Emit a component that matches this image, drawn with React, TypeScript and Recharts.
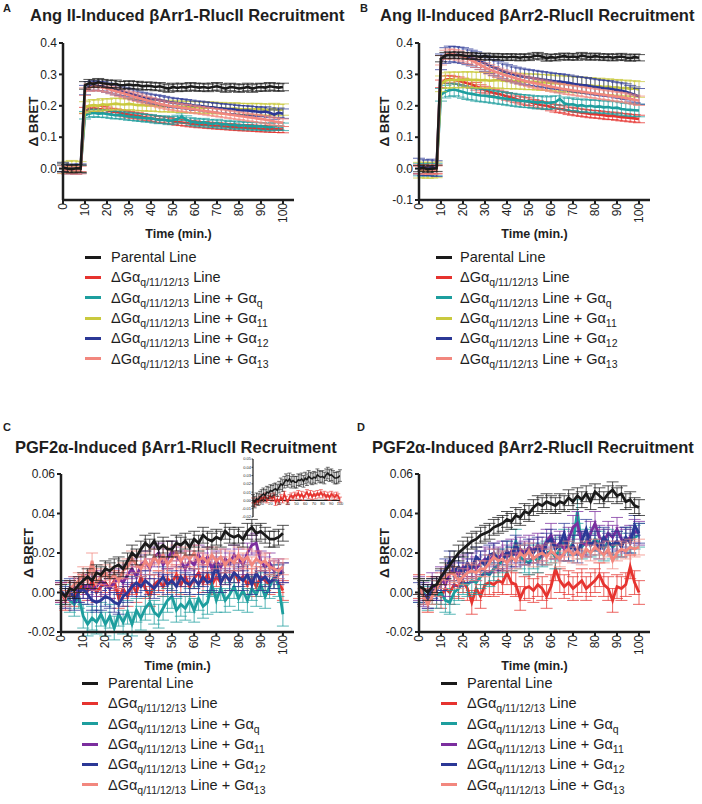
import { LineChart, Line, XAxis, YAxis, ErrorBar, Legend, ReferenceLine } from 'recharts'

const FONT = "'Liberation Sans', Arial, Helvetica, sans-serif"
const INK = '#1e1e1e'

// time points (min.)
const T = [0, 2, 4, 6, 8, 10, 12, 14, 16, 18, 20, 22, 24, 26, 28, 30, 32, 34, 36, 38, 40, 42, 44, 46, 48, 50, 52, 54, 56, 58, 60, 62, 64, 66, 68, 70, 72, 74, 76, 78, 80, 82, 84, 86, 88, 90, 92, 94, 96, 98, 100]
const X_TICKS = [0, 10, 20, 30, 40, 50, 60, 70, 80, 90, 100]

// A: Ang II, bArr1
const aParental = [0.003, 0.0, -0.002, 0.001, 0.0, 0.265, 0.272, 0.27, 0.275, 0.272,
  0.27, 0.268, 0.27, 0.265, 0.266, 0.268, 0.265, 0.266, 0.262, 0.264,
  0.263, 0.26, 0.262, 0.258, 0.255, 0.26, 0.257, 0.26, 0.258, 0.262,
  0.26, 0.258, 0.26, 0.257, 0.26, 0.262, 0.258, 0.255, 0.26, 0.258,
  0.255, 0.257, 0.26, 0.255, 0.258, 0.26, 0.258, 0.262, 0.26, 0.258, 0.26]
const aKO = [0.0, -0.003, 0.002, -0.002, 0.0, 0.185, 0.19, 0.192, 0.19, 0.188,
  0.186, 0.182, 0.18, 0.178, 0.175, 0.172, 0.17, 0.168, 0.165, 0.163,
  0.16, 0.158, 0.156, 0.155, 0.153, 0.15, 0.148, 0.147, 0.145, 0.143,
  0.142, 0.14, 0.14, 0.138, 0.137, 0.136, 0.135, 0.134, 0.133, 0.132,
  0.131, 0.13, 0.13, 0.129, 0.128, 0.127, 0.127, 0.126, 0.125, 0.125, 0.124]
const aKOq = [-0.002, 0.0, -0.003, 0.001, -0.002, 0.17, 0.175, 0.178, 0.175, 0.176,
  0.174, 0.172, 0.17, 0.171, 0.168, 0.166, 0.165, 0.163, 0.162, 0.16,
  0.16, 0.157, 0.155, 0.156, 0.152, 0.154, 0.158, 0.165, 0.156, 0.15,
  0.148, 0.145, 0.148, 0.144, 0.142, 0.145, 0.14, 0.142, 0.138, 0.14,
  0.136, 0.138, 0.135, 0.136, 0.134, 0.135, 0.133, 0.132, 0.134, 0.135, 0.133]
const aKO11 = [0.002, 0.005, 0.008, 0.006, 0.004, 0.195, 0.2, 0.202, 0.2, 0.205,
  0.203, 0.205, 0.207, 0.205, 0.204, 0.206, 0.204, 0.202, 0.203, 0.2,
  0.202, 0.2, 0.199, 0.198, 0.2, 0.197, 0.198, 0.196, 0.197, 0.195,
  0.196, 0.195, 0.193, 0.195, 0.194, 0.192, 0.193, 0.191, 0.19, 0.192,
  0.19, 0.189, 0.19, 0.188, 0.19, 0.189, 0.187, 0.188, 0.19, 0.186, 0.188]
const aKO12 = [0.005, -0.002, 0.0, -0.003, 0.0, 0.25, 0.262, 0.265, 0.263, 0.262,
  0.258, 0.255, 0.25, 0.248, 0.244, 0.24, 0.236, 0.232, 0.228, 0.225,
  0.222, 0.22, 0.218, 0.215, 0.212, 0.21, 0.208, 0.207, 0.205, 0.203,
  0.2, 0.2, 0.198, 0.196, 0.195, 0.193, 0.192, 0.19, 0.19, 0.188,
  0.186, 0.185, 0.185, 0.183, 0.182, 0.18, 0.182, 0.178, 0.172, 0.178, 0.175]
const aKO13 = [-0.003, -0.005, -0.004, -0.006, -0.005, 0.245, 0.258, 0.262, 0.26, 0.258,
  0.255, 0.25, 0.246, 0.242, 0.238, 0.234, 0.23, 0.226, 0.222, 0.218,
  0.214, 0.21, 0.206, 0.203, 0.2, 0.198, 0.196, 0.194, 0.192, 0.19,
  0.188, 0.186, 0.184, 0.182, 0.18, 0.178, 0.176, 0.174, 0.172, 0.17,
  0.168, 0.166, 0.164, 0.162, 0.16, 0.158, 0.156, 0.153, 0.15, 0.148, 0.146]
const aErr = [0.012, 0.01, 0.012, 0.018, 0.015, 0.012]

// B: Ang II, bArr2
const bParental = [0.0, 0.002, -0.002, 0.0, 0.001, 0.35, 0.36, 0.362, 0.36, 0.362,
  0.36, 0.358, 0.36, 0.358, 0.356, 0.358, 0.355, 0.357, 0.355, 0.356,
  0.354, 0.356, 0.355, 0.353, 0.356, 0.354, 0.358, 0.36, 0.356, 0.352,
  0.355, 0.353, 0.356, 0.358, 0.355, 0.357, 0.355, 0.36, 0.357, 0.355,
  0.358, 0.356, 0.354, 0.356, 0.353, 0.355, 0.357, 0.354, 0.352, 0.355, 0.353]
const bKO = [-0.004, -0.005, -0.004, -0.005, -0.003, 0.27, 0.283, 0.285, 0.282, 0.28,
  0.276, 0.272, 0.268, 0.262, 0.255, 0.25, 0.245, 0.241, 0.238, 0.234,
  0.23, 0.227, 0.222, 0.218, 0.215, 0.213, 0.208, 0.205, 0.202, 0.2,
  0.196, 0.192, 0.19, 0.188, 0.184, 0.182, 0.18, 0.178, 0.176, 0.174,
  0.173, 0.172, 0.17, 0.168, 0.168, 0.166, 0.164, 0.163, 0.161, 0.16, 0.158]
const bKOq = [-0.003, -0.004, -0.002, -0.004, -0.003, 0.235, 0.245, 0.25, 0.252, 0.248,
  0.244, 0.24, 0.238, 0.235, 0.233, 0.232, 0.23, 0.228, 0.226, 0.224,
  0.222, 0.22, 0.218, 0.216, 0.215, 0.214, 0.212, 0.21, 0.212, 0.208,
  0.21, 0.212, 0.222, 0.208, 0.204, 0.205, 0.2, 0.202, 0.198, 0.2,
  0.197, 0.198, 0.195, 0.196, 0.193, 0.194, 0.19, 0.188, 0.187, 0.186, 0.185]
const bKO11 = [-0.005, -0.004, -0.006, -0.005, -0.004, 0.27, 0.28, 0.283, 0.282, 0.283,
  0.282, 0.284, 0.282, 0.283, 0.281, 0.282, 0.28, 0.281, 0.282, 0.28,
  0.279, 0.28, 0.278, 0.279, 0.277, 0.276, 0.277, 0.275, 0.274, 0.275,
  0.272, 0.273, 0.27, 0.271, 0.268, 0.269, 0.266, 0.267, 0.264, 0.265,
  0.262, 0.263, 0.26, 0.261, 0.258, 0.259, 0.256, 0.257, 0.254, 0.255, 0.252]
const bKO12 = [0.008, 0.003, 0.002, 0.005, 0.0, 0.34, 0.36, 0.365, 0.364, 0.362,
  0.36, 0.356, 0.352, 0.347, 0.341, 0.335, 0.328, 0.322, 0.317, 0.311,
  0.306, 0.302, 0.298, 0.295, 0.292, 0.29, 0.288, 0.286, 0.284, 0.282,
  0.28, 0.278, 0.277, 0.275, 0.273, 0.27, 0.268, 0.266, 0.265, 0.262,
  0.26, 0.258, 0.256, 0.255, 0.253, 0.25, 0.248, 0.245, 0.24, 0.235, 0.23]
const bKO13 = [-0.002, -0.003, -0.002, -0.004, -0.003, 0.345, 0.362, 0.366, 0.364, 0.36,
  0.355, 0.35, 0.344, 0.337, 0.33, 0.322, 0.316, 0.31, 0.305, 0.3,
  0.296, 0.292, 0.288, 0.284, 0.28, 0.276, 0.273, 0.27, 0.267, 0.264,
  0.261, 0.258, 0.256, 0.253, 0.251, 0.249, 0.247, 0.245, 0.243, 0.241,
  0.239, 0.237, 0.235, 0.233, 0.231, 0.229, 0.227, 0.225, 0.222, 0.219, 0.216]
const bErr = [0.01, 0.012, 0.02, 0.025, 0.025, 0.015]

// C: PGF2a, bArr1
const cParental = [0.0, -0.002, 0.002, 0.001, 0.004, 0.006, 0.008, 0.006, 0.01, 0.009,
  0.012, 0.011, 0.013, 0.014, 0.012, 0.016, 0.02, 0.018, 0.022, 0.025,
  0.023, 0.026, 0.022, 0.024, 0.022, 0.022, 0.025, 0.024, 0.026, 0.023,
  0.027, 0.025, 0.029, 0.027, 0.026, 0.028, 0.027, 0.031, 0.029, 0.028,
  0.029, 0.027, 0.031, 0.033, 0.03, 0.031, 0.029, 0.027, 0.027, 0.028, 0.03]
const cKO = [0.0, -0.004, 0.0, -0.002, 0.002, 0.004, 0.001, 0.006, 0.0, 0.003,
  0.005, 0.002, 0.006, -0.003, 0.002, -0.002, 0.004, 0.0, 0.008, 0.002,
  -0.002, 0.004, 0.006, 0.003, 0.007, 0.005, 0.009, 0.004, 0.008, 0.003,
  0.007, 0.01, 0.005, 0.009, 0.004, 0.008, 0.005, 0.009, 0.006, 0.01,
  0.006, 0.008, 0.004, 0.007, 0.003, 0.008, 0.006, 0.004, 0.007, 0.005, 0.001]
const cKOq = [0.0, -0.002, -0.004, -0.006, -0.002, -0.012, -0.016, -0.013, -0.015, -0.011,
  -0.016, -0.012, -0.018, -0.011, -0.015, -0.01, -0.016, -0.009, -0.013, -0.008,
  -0.005, -0.01, -0.012, -0.008, -0.004, -0.002, -0.009, -0.006, -0.008, -0.004,
  -0.009, -0.003, -0.007, -0.005, 0.004, -0.004, 0.002, -0.004, -0.001, 0.003,
  -0.003, 0.001, -0.004, 0.002, -0.001, 0.004, -0.002, 0.003, 0.008, 0.004, -0.011]
const cKO11 = [0.0, -0.003, 0.001, 0.003, 0.0, 0.002, 0.004, 0.001, 0.003, 0.006,
  0.004, 0.002, 0.005, 0.007, 0.005, 0.009, 0.012, 0.008, 0.014, 0.016,
  0.012, 0.018, 0.02, 0.014, 0.017, 0.021, 0.018, 0.016, 0.012, 0.016,
  0.014, 0.019, 0.015, 0.018, 0.012, 0.016, 0.013, 0.017, 0.015, 0.019,
  0.017, 0.014, 0.02, 0.024, 0.025, 0.016, 0.013, 0.015, 0.011, 0.012, 0.01]
const cKO12 = [0.001, -0.002, 0.002, -0.004, 0.0, 0.002, -0.001, -0.004, -0.005, -0.004,
  -0.002, -0.003, -0.005, -0.006, -0.002, 0.0, 0.003, 0.005, 0.003, 0.006,
  0.004, 0.002, 0.005, 0.008, 0.004, 0.006, 0.003, 0.008, 0.005, 0.004,
  0.007, 0.004, 0.008, 0.005, 0.006, 0.015, 0.005, 0.009, 0.006, 0.01,
  0.008, 0.006, 0.009, 0.004, 0.01, 0.006, 0.008, 0.005, 0.007, 0.009, 0.01]
const cKO13 = [0.0, -0.003, 0.002, 0.004, 0.006, 0.009, 0.006, 0.016, 0.005, 0.008,
  0.01, 0.007, 0.009, 0.006, 0.011, 0.013, 0.017, 0.014, 0.012, 0.016,
  0.013, 0.018, 0.015, 0.019, 0.014, 0.017, 0.02, 0.016, 0.019, 0.017,
  0.02, 0.016, 0.018, 0.015, 0.019, 0.016, 0.018, 0.014, 0.017, 0.015,
  0.019, 0.016, 0.018, 0.014, 0.017, 0.015, 0.016, 0.013, 0.012, 0.011, 0.013]
const cErr = [0.004, 0.005, 0.006, 0.005, 0.005, 0.004]

// D: PGF2a, bArr2
const dParental = [0.003, 0.002, 0.0, 0.003, 0.004, 0.008, 0.011, 0.014, 0.017, 0.02,
  0.022, 0.024, 0.026, 0.027, 0.029, 0.03, 0.031, 0.033, 0.034, 0.035,
  0.037, 0.036, 0.039, 0.038, 0.041, 0.04, 0.043, 0.045, 0.044, 0.046,
  0.045, 0.044, 0.046, 0.045, 0.048, 0.046, 0.049, 0.047, 0.05, 0.046,
  0.051, 0.049, 0.047, 0.05, 0.052, 0.049, 0.05, 0.046, 0.047, 0.044, 0.043]
const dKO = [0.003, 0.0, -0.004, 0.002, 0.0, -0.002, 0.002, 0.0, 0.004, 0.003,
  0.006, 0.002, -0.005, 0.002, -0.002, 0.004, 0.005, 0.004, 0.006, 0.005,
  0.01, 0.005, 0.004, -0.003, 0.002, 0.003, 0.001, 0.004, 0.002, -0.002,
  0.003, 0.012, 0.006, 0.003, 0.005, 0.002, 0.004, 0.006, 0.002, 0.004,
  0.006, 0.009, 0.004, 0.002, -0.004, 0.003, 0.002, 0.004, 0.013, 0.005, 0.0]
const dKOq = [0.001, 0.0, -0.003, 0.0, -0.002, 0.0, -0.004, -0.005, 0.0, 0.002,
  0.005, 0.004, 0.006, 0.005, 0.008, 0.01, 0.009, 0.012, 0.014, 0.016,
  0.02, 0.017, 0.026, 0.018, 0.016, 0.015, 0.018, 0.016, 0.019, 0.02,
  0.021, 0.018, 0.022, 0.026, 0.022, 0.025, 0.041, 0.023, 0.026, 0.024,
  0.027, 0.025, 0.022, 0.026, 0.023, 0.025, 0.024, 0.027, 0.026, 0.028, 0.029]
const dKO11 = [0.002, -0.001, -0.002, 0.004, 0.002, 0.007, 0.004, 0.01, 0.012, 0.009,
  0.013, 0.011, 0.014, 0.012, 0.015, 0.017, 0.016, 0.019, 0.017, 0.02,
  0.018, 0.021, 0.019, 0.022, 0.02, 0.023, 0.021, 0.024, 0.022, 0.026,
  0.029, 0.023, 0.025, 0.022, 0.027, 0.033, 0.035, 0.025, 0.024, 0.03,
  0.035, 0.028, 0.026, 0.03, 0.028, 0.032, 0.027, 0.026, 0.028, 0.031, 0.03]
const dKO12 = [0.0, -0.001, -0.003, 0.002, 0.001, 0.006, 0.012, 0.016, 0.011, 0.013,
  0.01, 0.015, 0.012, 0.018, 0.016, 0.014, 0.019, 0.02, 0.017, 0.016,
  0.021, 0.018, 0.024, 0.02, 0.019, 0.022, 0.02, 0.023, 0.019, 0.025,
  0.027, 0.022, 0.024, 0.03, 0.021, 0.024, 0.02, 0.026, 0.032, 0.024,
  0.026, 0.022, 0.028, 0.025, 0.024, 0.026, 0.023, 0.028, 0.025, 0.034, 0.03]
const dKO13 = [0.003, -0.002, -0.006, -0.002, 0.002, 0.006, 0.008, 0.01, 0.009, 0.006,
  0.008, 0.01, 0.011, 0.01, 0.012, 0.012, 0.015, 0.018, 0.016, 0.017,
  0.015, 0.018, 0.016, 0.02, 0.018, 0.021, 0.017, 0.019, 0.02, 0.018,
  0.021, 0.019, 0.017, 0.02, 0.022, 0.019, 0.021, 0.018, 0.022, 0.02,
  0.023, 0.021, 0.019, 0.022, 0.016, 0.02, 0.022, 0.021, 0.023, 0.022, 0.023]
const dErr = [0.004, 0.006, 0.006, 0.006, 0.005, 0.004]

const insetErr = [0.007, 0.003]

const COLORS_AB = ['#1a1a1a', '#e6332f', '#1d9e9e', '#c9c93e', '#2b3896', '#f2877e']
const COLORS_CD = ['#1a1a1a', '#e6332f', '#1d9e9e', '#7b2e9e', '#2b3896', '#f2877e']
const SUBS = ['', '', 'q', '11', '12', '13']
// draw order: parental last so it sits on top
const ORDER = [1, 2, 3, 4, 5, 0]

function rowsFor(series: number[][], errs: number[]) {
  return T.map((t, i) => {
    const r: Record<string, number> = { t }
    series.forEach((s, k) => { r['s' + k] = s[i]; r['e' + k] = errs[k] })
    return r
  })
}

function XTick({ x, y, payload }: any) {
  return (
    <text transform={`translate(${x},${y - 3}) rotate(-90)`} textAnchor="end" dominantBaseline="central"
      fontSize={12} fill={INK}>{payload.value}</text>
  )
}

function XTitle({ viewBox }: any) {
  return (
    <text x={viewBox.x + viewBox.width / 2} y={viewBox.y + 34} textAnchor="middle" dominantBaseline="central"
      fontSize={12.5} fontWeight="bold" fill={INK}>Time (min.)</text>
  )
}

function YTitle({ viewBox, off }: any) {
  const cx = viewBox.x + viewBox.width - off
  const cy = viewBox.y + viewBox.height / 2
  return (
    <text x={cx} y={cy} transform={`rotate(-90 ${cx} ${cy})`} textAnchor="middle" dominantBaseline="central"
      fontSize={13.5} fontWeight="bold" fill={INK}>Δ BRET</text>
  )
}

const subStyle = { fontSize: 10.5, position: 'relative' as const, top: 4 }

function LegendBox({ colors, gap }: { colors: string[]; gap: number }) {
  return (
    <div style={{ fontFamily: FONT, fontSize: 14.5, color: INK }}>
      {colors.map((c, i) => (
        <div key={i} style={{ display: 'flex', alignItems: 'center', height: 20.3, whiteSpace: 'nowrap' }}>
          <span style={{ width: 16, height: 3, background: c, marginRight: gap, flex: 'none' }} />
          {i === 0 ? <span>Parental Line</span> : (
            <span>ΔGα<span style={subStyle}>q/11/12/13</span> Line{SUBS[i] && <> + Gα<span style={subStyle}>{SUBS[i]}</span></>}</span>
          )}
        </div>
      ))}
    </div>
  )
}

interface PanelCfg {
  left: number; top: number; height: number
  margin: { top: number; right: number; bottom: number; left: number }
  series: number[][]; errs: number[]; colors: string[]
  yDomain: number[]; yTicks: number[]; dec: number; yOff: number
  legLeft: number; legTop: number; legGap: number; lw: number
}

function Panel({ p }: { p: PanelCfg }) {
  const data = rowsFor(p.series, p.errs)
  return (
    <div style={{ position: 'absolute', left: p.left, top: p.top }}>
      <LineChart width={351} height={p.height} data={data} margin={p.margin}>
        <XAxis type="number" dataKey="t" domain={[0, 105]} ticks={X_TICKS} interval={0} allowDataOverflow
          height={40} tickSize={4} tickMargin={2}
          axisLine={{ stroke: INK, strokeWidth: 2.5 }} tickLine={{ stroke: INK, strokeWidth: 2 }}
          tick={<XTick />} label={<XTitle />} />
        <YAxis type="number" domain={p.yDomain} ticks={p.yTicks} interval={0} allowDataOverflow width={40}
          tickSize={4} tickMargin={2} tickFormatter={(v: number) => v.toFixed(p.dec)}
          axisLine={{ stroke: INK, strokeWidth: 2.5 }} tickLine={{ stroke: INK, strokeWidth: 2 }}
          tick={{ fontSize: 12, fill: INK }} label={<YTitle off={p.yOff} />} />
        <Legend layout="vertical" align="center" verticalAlign="middle"
          wrapperStyle={{ left: p.legLeft, top: p.legTop, width: 270, height: 125 }}
          content={() => <LegendBox colors={p.colors} gap={p.legGap} />} />
        {ORDER.map(k => (
          <Line key={k} type="linear" dataKey={'s' + k} stroke={p.colors[k]} strokeWidth={p.lw}
            dot={false} activeDot={false} isAnimationActive={false}>
            <ErrorBar dataKey={'e' + k} width={6} stroke={p.colors[k]} strokeWidth={1} strokeOpacity={0.75} />
          </Line>
        ))}
      </LineChart>
    </div>
  )
}

function InsetXTick({ x, y, payload }: any) {
  return <text x={x} y={y - 12.5} textAnchor="middle" fontSize={4} fill={INK}>{payload.value}</text>
}

function Inset() {
  const data = rowsFor([cParental, cKO], insetErr)
  return (
    <div style={{ position: 'absolute', left: 240, top: 453 }}>
      <LineChart width={105} height={70} data={data} margin={{ top: 6, right: 5, bottom: 5, left: 0 }}>
        <XAxis type="number" dataKey="t" domain={[0, 100]} ticks={[10, 20, 30, 40, 50, 60, 70, 80, 90, 100]}
          interval={0} allowDataOverflow height={1} tickSize={0} tickMargin={0} axisLine={false}
          tick={<InsetXTick />} />
        <YAxis type="number" domain={[-0.02, 0.05]} ticks={[-0.02, -0.01, 0, 0.01, 0.02, 0.03, 0.04, 0.05]}
          interval={0} allowDataOverflow width={13} tickSize={1.5} tickMargin={0.5}
          tickFormatter={(v: number) => v.toFixed(2)} axisLine={{ stroke: INK, strokeWidth: 1.2 }}
          tickLine={{ stroke: INK, strokeWidth: 0.8 }} tick={{ fontSize: 4, fill: INK }} />
        <ReferenceLine y={0} stroke={INK} strokeWidth={1.2} />
        <Line type="linear" dataKey="s1" stroke={COLORS_CD[1]} strokeWidth={1.6} dot={false} activeDot={false} isAnimationActive={false}>
          <ErrorBar dataKey="e1" width={2} stroke={COLORS_CD[1]} strokeWidth={0.6} />
        </Line>
        <Line type="linear" dataKey="s0" stroke={COLORS_CD[0]} strokeWidth={1.6} dot={false} activeDot={false} isAnimationActive={false}>
          <ErrorBar dataKey="e0" width={2} stroke={COLORS_CD[0]} strokeWidth={0.6} />
        </Line>
      </LineChart>
    </div>
  )
}

const PANELS: PanelCfg[] = [
  {
    left: 0, top: 0, height: 380, margin: { top: 43, right: 57, bottom: 140, left: 23 },
    series: [aParental, aKO, aKOq, aKO11, aKO12, aKO13], errs: aErr, colors: COLORS_AB,
    yDomain: [-0.1, 0.4], yTicks: [0, 0.1, 0.2, 0.3, 0.4], dec: 1, yOff: 30,
    legLeft: 85, legTop: 247, legGap: 10, lw: 2.6,
  },
  {
    left: 351, top: 0, height: 380, margin: { top: 43, right: 52, bottom: 140, left: 28 },
    series: [bParental, bKO, bKOq, bKO11, bKO12, bKO13], errs: bErr, colors: COLORS_AB,
    yDomain: [-0.1, 0.4], yTicks: [-0.1, 0, 0.1, 0.2, 0.3, 0.4], dec: 1, yOff: 35,
    legLeft: 85, legTop: 247, legGap: 8, lw: 2.6,
  },
  {
    left: 0, top: 380, height: 424, margin: { top: 94, right: 57, bottom: 132, left: 21 },
    series: [cParental, cKO, cKOq, cKO11, cKO12, cKO13], errs: cErr, colors: COLORS_CD,
    yDomain: [-0.02, 0.06], yTicks: [-0.02, 0, 0.02, 0.04, 0.06], dec: 2, yOff: 33,
    legLeft: 82, legTop: 293, legGap: 10, lw: 2.8,
  },
  {
    left: 351, top: 380, height: 424, margin: { top: 94, right: 52, bottom: 132, left: 28 },
    series: [dParental, dKO, dKOq, dKO11, dKO12, dKO13], errs: dErr, colors: COLORS_CD,
    yDomain: [-0.02, 0.06], yTicks: [-0.02, 0, 0.02, 0.04, 0.06], dec: 2, yOff: 35,
    legLeft: 90, legTop: 293, legGap: 10, lw: 2.8,
  },
]

const TITLES = [
  { letter: 'A', lx: 3, ly: 3, text: 'Ang II-Induced βArr1-RlucII Recruitment', tx: 30, ty: 10 },
  { letter: 'B', lx: 360, ly: 3, text: 'Ang II-Induced βArr2-RlucII Recruitment', tx: 380, ty: 10 },
  { letter: 'C', lx: 3, ly: 422, text: 'PGF2α-Induced βArr1-RlucII Recruitment', tx: 15, ty: 442 },
  { letter: 'D', lx: 357, ly: 422, text: 'PGF2α-Induced βArr2-RlucII Recruitment', tx: 372, ty: 442 },
]

export default function App() {
  return (
    <div style={{ position: 'absolute', left: 0, top: 0, width: 702, height: 804, background: '#fff', fontFamily: FONT, color: INK, overflow: 'hidden' }}>
      {PANELS.map((p, i) => <Panel key={i} p={p} />)}
      <Inset />
      {TITLES.map(t => (
        <div key={t.letter}>
          <div style={{ position: 'absolute', left: t.lx, top: t.ly, fontSize: 11, fontWeight: 'bold', lineHeight: 1 }}>{t.letter}</div>
          <div style={{ position: 'absolute', left: t.tx, top: t.ty, fontSize: 16.5, fontWeight: 'bold', lineHeight: '10px', height: 10, whiteSpace: 'nowrap' }}>{t.text}</div>
        </div>
      ))}
    </div>
  )
}
